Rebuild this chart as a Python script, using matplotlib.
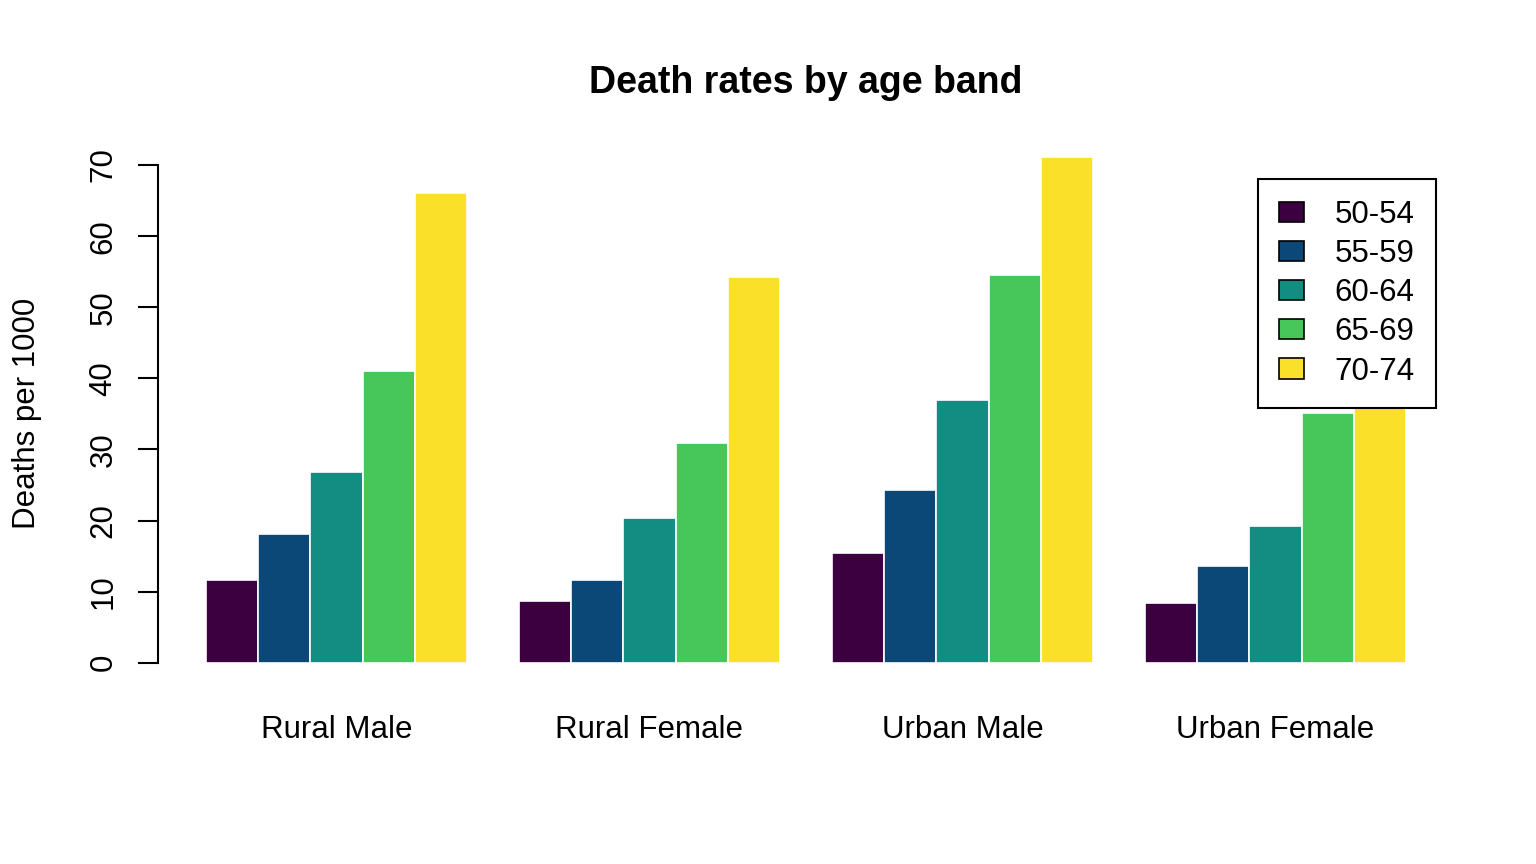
import numpy as np
import matplotlib
matplotlib.use("Agg")
import matplotlib.pyplot as plt
from matplotlib.patches import Patch

plt.rcParams['font.family'] = ['Liberation Sans', 'DejaVu Sans']

# VADeaths data
groups = ["Rural Male", "Rural Female", "Urban Male", "Urban Female"]
ages = ["50-54", "55-59", "60-64", "65-69", "70-74"]
rural_male = [11.7, 18.1, 26.9, 41.0, 66.0]
rural_female = [8.7, 11.7, 20.3, 30.9, 54.3]
urban_male = [15.4, 24.3, 37.0, 54.6, 71.1]
urban_female = [8.4, 13.6, 19.3, 35.1, 50.0]
colors = ["#3C0040", "#0B4777", "#138C82", "#47C659", "#FBE029"]

values = np.array([rural_male, rural_female, urban_male, urban_female])

W, H = 1536, 864
fig = plt.figure(figsize=(W / 100, H / 100), dpi=100)
ax = fig.add_axes([158 / W, 1 - 683 / H, (1454 - 158) / W, (683 - 137) / H])

# barplot(beside=TRUE) layout: groups of 5 bars with a gap of 1
nb = len(ages)
for g in range(len(groups)):
    left = 1 + g * (nb + 1)
    for i in range(nb):
        ax.bar(left + i, values[g, i], width=1, align="edge",
               color=colors[i], edgecolor="white", linewidth=1.2)

ymax = values.max()
ax.set_xlim(1 - 0.04 * 23, 24 + 0.04 * 23)
ax.set_ylim(-0.04 * ymax, ymax * 1.04)

for s in ["top", "right", "bottom"]:
    ax.spines[s].set_visible(False)
ax.spines["left"].set_bounds(0, 70)
ax.spines["left"].set_linewidth(1.5)

fs = 22.5
ax.set_yticks(np.arange(0, 71, 10))
ax.tick_params(axis="y", length=14.5, width=1.5, pad=14, labelsize=fs)
for lab in ax.get_yticklabels():
    lab.set_rotation(90)
    lab.set_va("center")

centers = [1 + g * (nb + 1) + nb / 2 for g in range(len(groups))]
ax.set_xticks(centers)
ax.set_xticklabels(groups)
ax.tick_params(axis="x", length=0, pad=23, labelsize=fs)

ax.set_ylabel("Deaths per 1000", fontsize=fs, rotation=90, rotation_mode="default",
              ha="center", va="center")
ax.yaxis.set_label_coords((27 - 158) / 1296, 0.4936)

fig.text(806 / W, 1 - 93 / H, "Death rates by age band", ha="center", va="baseline",
         fontsize=27, fontweight="bold")

handles = [Patch(facecolor=c, edgecolor="black", linewidth=1.2) for c in colors]
leg = ax.legend(handles, ages, loc="upper right",
                bbox_to_anchor=(1436 / W, 1 - 179 / H), bbox_transform=fig.transFigure,
                fontsize=fs, fancybox=False, framealpha=1, edgecolor="black",
                borderpad=0.68, labelspacing=0.29, handlelength=0.8, handleheight=0.61,
                handletextpad=0.98, borderaxespad=0)
leg.get_frame().set_linewidth(1.5)

fig.savefig("out.png", dpi=100)
